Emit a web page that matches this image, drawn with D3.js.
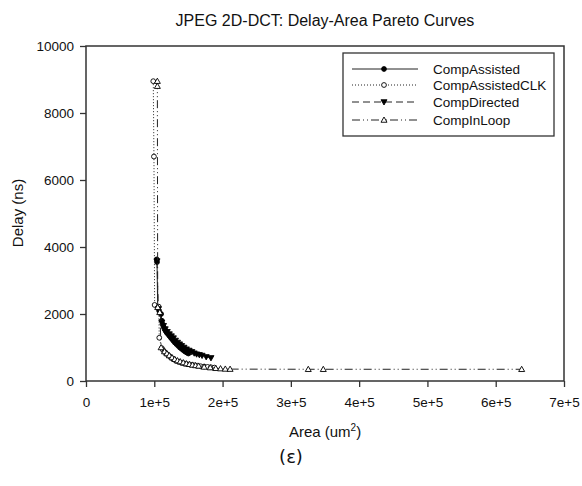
<!DOCTYPE html>
<html>
<head>
<meta charset="utf-8">
<script src="https://cdn.jsdelivr.net/npm/d3@7"></script>
<style>
  body { margin: 0; background: #fff; }
  svg text { font-family: "Liberation Sans", Arial, sans-serif; fill: #111; }
</style>
</head>
<body>
<svg id="chart" width="582" height="486"></svg>
<script>
// series: [area (um^2), delay (ns)]
var compAssisted = [
  [103500, 3630], [104000, 3550], [105000, 2200], [107000, 2100], [110000, 2000],
  [111000, 1800], [112000, 1700], [113500, 1620], [115000, 1550], [116500, 1500],
  [118000, 1450], [120000, 1400], [122000, 1350], [124000, 1300], [126000, 1250],
  [128000, 1200], [130000, 1150], [132500, 1100], [135000, 1050], [137500, 1000],
  [140000, 960], [142500, 920], [145000, 880], [147500, 850], [150000, 820]
];
var compAssistedCLK = [
  [98500, 8950], [99500, 6700], [100500, 2270], [106400, 2220], [107300, 1290],
  [111000, 980], [113000, 920], [115000, 870], [117500, 820], [120000, 780],
  [123000, 730], [126000, 680], [129000, 640], [132000, 600], [136000, 570],
  [140000, 540], [144000, 520], [148000, 500], [153000, 485], [158000, 470],
  [163000, 455], [168000, 440], [173000, 430], [178000, 420], [183000, 410], [188000, 400]
];
var compDirected = [
  [104000, 3580], [106000, 2150], [111000, 1750], [113500, 1650], [116000, 1550],
  [119000, 1470], [122000, 1400], [125000, 1340], [128000, 1280], [131000, 1210],
  [134000, 1150], [137000, 1100], [140000, 1050], [143500, 1000], [147000, 950],
  [151000, 910], [155000, 870], [158500, 830], [162000, 800], [166000, 780],
  [170000, 760], [176000, 720], [183000, 690]
];
var compInLoop = [
  [104500, 8950], [104500, 8800], [105000, 2200], [108000, 2050], [110000, 1000],
  [115000, 880], [118500, 820], [122000, 760], [126000, 700], [130000, 650],
  [134000, 610], [138000, 580], [142500, 550], [147000, 520], [151500, 500],
  [156000, 480], [160500, 465], [165000, 450], [173000, 420], [182000, 400],
  [190000, 380], [197000, 370], [204000, 360], [211000, 355],
  [325500, 350], [347500, 350], [638000, 350]
];
var seriesNames = ["CompAssisted", "CompAssistedCLK", "CompDirected", "CompInLoop"];
var xTicks = [0, 100000, 200000, 300000, 400000, 500000, 600000, 700000];
var xTickLabels = ["0", "1e+5", "2e+5", "3e+5", "4e+5", "5e+5", "6e+5", "7e+5"];
var yTicks = [0, 2000, 4000, 6000, 8000, 10000];

var margin = {top: 46, right: 18, bottom: 105, left: 86},
    width = 582, height = 486,
    w = width - margin.left - margin.right,
    h = height - margin.top - margin.bottom;

var svg = d3.select("#chart");
var g = svg.append("g").attr("transform", "translate(" + margin.left + "," + margin.top + ")");

var x = d3.scaleLinear().domain([0, 700000]).range([0, w]);
var y = d3.scaleLinear().domain([0, 10000]).range([h, 0]);

var styles = [
  {data: compAssisted, dash: null, marker: "circle", fill: "#000"},
  {data: compAssistedCLK, dash: "1,2", marker: "circle", fill: "#fff"},
  {data: compDirected, dash: "7,4", marker: "down", fill: "#000"},
  {data: compInLoop, dash: "8,3,1,3,1,3", marker: "up", fill: "#fff"}
];

function drawMarker(sel, type, fill) {
  if (type === "circle") {
    sel.append("circle").attr("r", 2.4)
      .attr("fill", fill).attr("stroke", "#000").attr("stroke-width", 0.9);
  } else {
    var s = 3;
    var p = type === "up"
      ? [[0, -s], [s, s * 0.75], [-s, s * 0.75]]
      : [[0, s], [s, -s * 0.75], [-s, -s * 0.75]];
    sel.append("path").attr("d", "M" + p.join("L") + "Z")
      .attr("fill", fill).attr("stroke", "#000").attr("stroke-width", 0.9);
  }
}

var line = d3.line().x(function(d) { return x(d[0]); }).y(function(d) { return y(d[1]); });

styles.forEach(function(s) {
  g.append("path").datum(s.data)
    .attr("d", line)
    .attr("fill", "none")
    .attr("stroke", "#222")
    .attr("stroke-width", 1)
    .attr("stroke-dasharray", s.dash);
  g.selectAll(null).data(s.data).enter().append("g")
    .attr("transform", function(d) { return "translate(" + x(d[0]) + "," + y(d[1]) + ")"; })
    .each(function() { drawMarker(d3.select(this), s.marker, s.fill); });
});

// frame
g.append("rect").attr("width", w).attr("height", h)
  .attr("fill", "none").attr("stroke", "#333").attr("stroke-width", 1.5);

var xAxis = g.append("g").attr("transform", "translate(0," + h + ")")
  .call(d3.axisBottom(x).tickValues(xTicks).tickSize(6).tickPadding(10)
    .tickFormat(function(d, i) { return xTickLabels[i]; }));
var yAxis = g.append("g")
  .call(d3.axisLeft(y).tickValues(yTicks).tickSize(6).tickPadding(6).tickFormat(d3.format("d")));
[xAxis, yAxis].forEach(function(a) {
  a.select(".domain").remove();
  a.selectAll(".tick line").attr("stroke", "#333").attr("stroke-width", 1.3);
  a.selectAll(".tick text").style("font-size", "13.5px").style("font-family", "Liberation Sans, Arial, sans-serif");
});

// legend
var lg = g.append("g").attr("transform", "translate(" + (343 - margin.left) + "," + (53 - margin.top) + ")");
lg.append("rect").attr("width", 211).attr("height", 83)
  .attr("fill", "#fff").attr("stroke", "#333").attr("stroke-width", 1.3);
var rowY = [16, 32, 49, 67];
styles.forEach(function(s, i) {
  var row = lg.append("g").attr("transform", "translate(0," + rowY[i] + ")");
  row.append("line").attr("x1", 9).attr("x2", 75)
    .attr("stroke", "#222").attr("stroke-width", 1).attr("stroke-dasharray", s.dash);
  drawMarker(row.append("g").attr("transform", "translate(41,0)"), s.marker, s.fill);
  row.append("text").attr("x", 90).attr("dy", "0.35em")
    .style("font-size", "13.5px").text(seriesNames[i]);
});

// titles
svg.append("text").attr("x", 325).attr("y", 26).attr("text-anchor", "middle")
  .style("font-size", "16px").text("JPEG 2D-DCT: Delay-Area Pareto Curves");

var xt = svg.append("text").attr("x", 325).attr("y", 437).attr("text-anchor", "middle")
  .style("font-size", "15px");
xt.append("tspan").text("Area (um");
xt.append("tspan").attr("dy", -6).style("font-size", "10px").text("2");
xt.append("tspan").attr("dy", 6).text(")");

svg.append("text").attr("transform", "translate(23,213) rotate(-90)")
  .attr("text-anchor", "middle").style("font-size", "15px").text("Delay (ns)");

svg.append("text").attr("x", 291).attr("y", 463).attr("text-anchor", "middle")
  .style("font-size", "18px").style("font-family", "DejaVu Sans, sans-serif").text("(ε)");
</script>
</body>
</html>
